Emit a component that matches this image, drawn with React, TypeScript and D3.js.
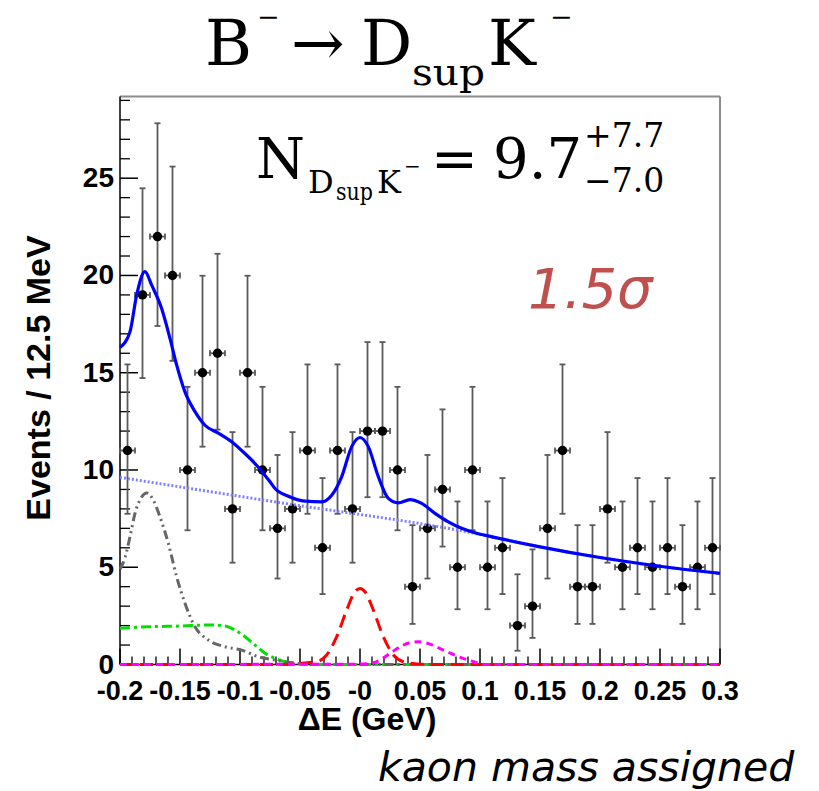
import React from "react";
import * as d3 from "d3";

// ---------- data ----------
const binCenters = [
  -0.19375, -0.18125, -0.16875, -0.15625, -0.14375, -0.13125, -0.11875, -0.10625,
  -0.09375, -0.08125, -0.06875, -0.05625, -0.04375, -0.03125, -0.01875, -0.00625,
  0.00625, 0.01875, 0.03125, 0.04375, 0.05625, 0.06875, 0.08125, 0.09375,
  0.10625, 0.11875, 0.13125, 0.14375, 0.15625, 0.16875, 0.18125, 0.19375,
  0.20625, 0.21875, 0.23125, 0.24375, 0.25625, 0.26875, 0.28125, 0.29375,
];
const binHalfWidth = 0.00625;
const counts = [
  11, 19, 22, 20, 10, 15, 16, 8, 15, 10, 7, 8, 11, 6, 11, 8, 12, 12, 10, 4,
  7, 9, 5, 10, 5, 6, 2, 3, 7, 11, 4, 4, 8, 5, 6, 5, 6, 4, 5, 6,
];
// Poisson (Garwood 68.3%) interval bounds indexed by count
const poissonLow = [
  0, 0.173, 0.708, 1.367, 2.086, 2.84, 3.62, 4.419, 5.234, 6.062, 6.9, 7.747,
  8.6, 9.461, 10.327, 11.198, 12.073, 12.953, 13.836, 14.723, 15.613, 16.505, 17.4,
];
const poissonHigh = [
  1.841, 3.299, 4.638, 5.918, 7.163, 8.382, 9.584, 10.771, 11.947, 13.115, 14.274,
  15.427, 16.573, 17.715, 18.852, 19.985, 21.115, 22.24, 23.363, 24.482, 25.598,
  26.712, 27.823,
];

// fit curves: [deltaE, events]
const totalCurve: [number, number][] = [
  [-0.2, 16.3], [-0.1917, 17.1], [-0.1861, 19.0], [-0.1792, 20.2], [-0.1736, 19.5],
  [-0.1653, 18.3], [-0.1583, 16.75], [-0.1528, 15.4], [-0.1458, 14.0], [-0.1375, 13.0],
  [-0.1292, 12.3], [-0.1181, 11.9], [-0.1069, 11.45], [-0.0986, 11.0], [-0.0875, 10.33],
  [-0.075, 9.39], [-0.0708, 9.05], [-0.0597, 8.65], [-0.0458, 8.4], [-0.0319, 8.36],
  [-0.0236, 8.7], [-0.0153, 9.65], [-0.0069, 11.2], [0.0, 11.67], [0.0069, 11.2],
  [0.0153, 9.65], [0.0236, 8.54], [0.0319, 8.31], [0.0417, 8.48], [0.0514, 8.28],
  [0.0625, 7.77], [0.0736, 7.33], [0.0847, 7.0], [0.0958, 6.77], [0.1111, 6.55],
  [0.15, 6.05], [0.2, 5.5], [0.25, 5.05], [0.3, 4.68],
];
const combBkgCurve: [number, number][] = [
  [-0.2, 9.62], [-0.0708, 8.36], [0.0958, 6.74], [0.1111, 6.55], [0.15, 6.05],
  [0.2, 5.5], [0.25, 5.05], [0.3, 4.68],
];
const peakingBkgCurve: [number, number][] = [
  [-0.2, 4.9], [-0.1958, 5.5], [-0.1917, 6.56], [-0.1875, 7.77], [-0.1819, 8.62],
  [-0.1778, 8.82], [-0.1722, 8.45], [-0.1667, 7.59], [-0.1597, 6.22], [-0.1528, 4.51],
  [-0.1458, 3.14], [-0.1375, 1.94], [-0.1264, 1.26], [-0.1125, 0.91], [-0.0986, 0.74],
  [-0.0847, 0.4], [-0.0708, 0.23], [-0.0569, 0.09], [-0.04, 0.0], [0.3, 0.0],
];
const bbkgCurve: [number, number][] = [
  [-0.2, 1.86], [-0.1764, 1.94], [-0.1486, 1.98], [-0.1264, 2.03], [-0.1125, 1.98],
  [-0.1042, 1.77], [-0.0958, 1.43], [-0.0875, 1.0], [-0.0792, 0.58], [-0.0708, 0.32],
  [-0.0625, 0.14], [-0.0542, 0.06], [-0.04, 0.0], [0.3, 0.0],
];
const signalCurve: [number, number][] = [
  [-0.2, 0.0], [-0.065, 0.0], [-0.05, 0.06], [-0.0361, 0.14], [-0.0278, 0.49],
  [-0.0194, 1.43], [-0.0111, 2.8], [-0.0042, 3.74], [0.0, 3.91], [0.0042, 3.74],
  [0.0111, 2.8], [0.0194, 1.43], [0.0278, 0.49], [0.0361, 0.14], [0.0472, 0.03],
  [0.06, 0.0], [0.3, 0.0],
];
const dpiCurve: [number, number][] = [
  [-0.2, 0.0], [0.0, 0.02], [0.0111, 0.09], [0.0167, 0.23], [0.025, 0.57],
  [0.0333, 0.91], [0.0417, 1.12], [0.0486, 1.17], [0.0583, 1.05], [0.0694, 0.74],
  [0.0806, 0.44], [0.0917, 0.2], [0.105, 0.0], [0.3, 0.0],
];

const xMajorTicks = [-0.2, -0.15, -0.1, -0.05, 0, 0.05, 0.1, 0.15, 0.2, 0.25, 0.3];
const xTickLabels = ["-0.2", "-0.15", "-0.1", "-0.05", "-0", "0.05", "0.1", "0.15", "0.2", "0.25", "0.3"];
const yMajorTicks = [0, 5, 10, 15, 20, 25];
const yTickLabels = ["0", "5", "10", "15", "20", "25"];

// ---------- layout ----------
const W = 819;
const H = 791;
const X0 = 120, X1 = 720, Y0 = 664.5, Y1 = 96.5;

export default function App() {
  const x = d3.scaleLinear().domain([-0.2, 0.3]).range([X0, X1]);
  const y = d3.scaleLinear().domain([0, 29.2]).range([Y0, Y1]);

  const line = d3
    .line<[number, number]>()
    .x((d) => x(d[0]))
    .y((d) => y(d[1]))
    .curve(d3.curveMonotoneX);

  const xMinor = d3.range(-0.2, 0.3001, 0.01).filter(
    (v) => !xMajorTicks.some((m) => Math.abs(m - v) < 1e-6)
  );
  const yMinor = d3.range(0, 30, 1).filter((v) => v % 5 !== 0 && y(v) > Y1);

  const axisFont = "'Liberation Sans', Arial, Helvetica, sans-serif";
  const serif = "'DejaVu Serif', serif";
  const sans = "'DejaVu Sans', sans-serif";
  const errColor = "#5a5a5a";

  return (
    <svg
      width={W}
      height={H}
      style={{ position: "absolute", left: 0, top: 0, background: "#fff" }}
    >
      <rect x={0} y={0} width={W} height={H} fill="#fff" />

      {/* frame */}
      <line x1={X0} y1={Y1} x2={X1} y2={Y1} stroke="#8c8c8c" strokeWidth={2} />
      <line x1={X1} y1={Y1} x2={X1} y2={Y0} stroke="#8c8c8c" strokeWidth={2} />
      <line x1={X0} y1={Y1} x2={X0} y2={Y0} stroke="#000" strokeWidth={1.5} />
      <line x1={X0} y1={Y0} x2={X1} y2={Y0} stroke="#000" strokeWidth={1.5} />

      {/* y ticks */}
      {yMajorTicks.map((v) => (
        <line key={"ym" + v} x1={X0} x2={X0 + 18} y1={y(v)} y2={y(v)} stroke="#000" strokeWidth={1.5} />
      ))}
      {yMinor.map((v) => (
        <line key={"yn" + v} x1={X0} x2={X0 + 10} y1={y(v)} y2={y(v)} stroke="#000" strokeWidth={1.3} />
      ))}
      {/* x ticks */}
      {xMajorTicks.map((v) => (
        <line key={"xm" + v} x1={x(v)} x2={x(v)} y1={Y0} y2={Y0 - 16} stroke="#000" strokeWidth={1.5} />
      ))}
      {xMinor.map((v, i) => (
        <line key={"xn" + i} x1={x(v)} x2={x(v)} y1={Y0} y2={Y0 - 8} stroke="#000" strokeWidth={1.3} />
      ))}

      {/* tick labels */}
      {yMajorTicks.map((v, i) => (
        <text
          key={"yl" + v}
          x={X0 - 6}
          y={y(v) + 9}
          textAnchor="end"
          fontFamily={axisFont}
          fontWeight="bold"
          fontSize={28}
        >
          {yTickLabels[i]}
        </text>
      ))}
      {xMajorTicks.map((v, i) => (
        <text
          key={"xl" + v}
          x={x(v)}
          y={Y0 + 35}
          textAnchor="middle"
          fontFamily={axisFont}
          fontWeight="bold"
          fontSize={27}
        >
          {xTickLabels[i]}
        </text>
      ))}

      {/* axis titles */}
      <text
        x={367}
        y={730}
        textAnchor="middle"
        fontFamily={axisFont}
        fontWeight="bold"
        fontSize={32}
      >
        ΔE (GeV)
      </text>
      <text
        transform="translate(50,378) rotate(-90)"
        textAnchor="middle"
        fontFamily={axisFont}
        fontWeight="bold"
        fontSize={34}
      >
        Events / 12.5 MeV
      </text>

      {/* data points with error bars */}
      {counts.map((n, i) => {
        const cx = x(binCenters[i]);
        const cy = y(n);
        const yl = y(poissonLow[n]);
        const yh = y(poissonHigh[n]);
        const xl = x(binCenters[i] - binHalfWidth);
        const xh = x(binCenters[i] + binHalfWidth);
        return (
          <g key={"pt" + i} stroke={errColor} strokeWidth={1.8}>
            <line x1={cx} x2={cx} y1={yh} y2={yl} />
            <line x1={cx - 3} x2={cx + 3} y1={yh} y2={yh} />
            <line x1={cx - 3} x2={cx + 3} y1={yl} y2={yl} />
            <line x1={xl} x2={xh} y1={cy} y2={cy} />
            <line x1={xl} x2={xl} y1={cy - 3} y2={cy + 3} />
            <line x1={xh} x2={xh} y1={cy - 3} y2={cy + 3} />
            <circle cx={cx} cy={cy} r={4.7} fill="#000" stroke="none" />
          </g>
        );
      })}

      {/* component curves */}
      <path d={line(bbkgCurve) || ""} fill="none" stroke="#00e000" strokeWidth={3} strokeDasharray="10,4,3,4" />
      <path d={line(peakingBkgCurve) || ""} fill="none" stroke="#666" strokeWidth={3} strokeDasharray="9,4,2,4,2,4" />
      <path d={line(signalCurve) || ""} fill="none" stroke="#ff0000" strokeWidth={3} strokeDasharray="13,7" />
      <path d={line(dpiCurve) || ""} fill="none" stroke="#ff00ff" strokeWidth={3} strokeDasharray="7,5" />
      <path d={line(combBkgCurve) || ""} fill="none" stroke="#8080ff" strokeWidth={3} strokeDasharray="2,2" />
      <path d={line(totalCurve) || ""} fill="none" stroke="#0000ff" strokeWidth={3.2} />

      {/* title */}
      <g fontFamily={serif} fill="#000">
        <text x={205} y={65} fontSize={64}>B</text>
        <text x={257} y={26} fontSize={27}>−</text>
        <text x={291} y={65} fontSize={64}>→</text>
        <text x={361} y={65} fontSize={64}>D</text>
        <text x={412} y={85} fontSize={38} textLength={73} lengthAdjust="spacingAndGlyphs">sup</text>
        <text x={488} y={65} fontSize={64}>K</text>
        <text x={550} y={26} fontSize={27}>−</text>
      </g>

      {/* yield */}
      <g fontFamily={serif} fill="#000">
        <text x={256} y={178} fontSize={56}>N</text>
        <text x={308} y={193} fontSize={32}>D</text>
        <text x={336} y={200} fontSize={25} textLength={37} lengthAdjust="spacingAndGlyphs">sup</text>
        <text x={377} y={193} fontSize={32}>K</text>
        <text x={404} y={173} fontSize={20}>−</text>
        <text x={431} y={178} fontSize={56}>=</text>
        <text x={493} y={178} fontSize={56}>9.7</text>
        <text x={584} y={147} fontSize={33}>+7.7</text>
        <text x={584} y={192} fontSize={33}>−7.0</text>
      </g>

      <text x={528} y={308} fontFamily={sans} fontStyle="italic" fontSize={56} fill="#c0504d">
        1.5σ
      </text>

      <text x={378} y={781} fontFamily={sans} fontStyle="italic" fontSize={41} fill="#000">
        kaon mass assigned
      </text>
    </svg>
  );
}
